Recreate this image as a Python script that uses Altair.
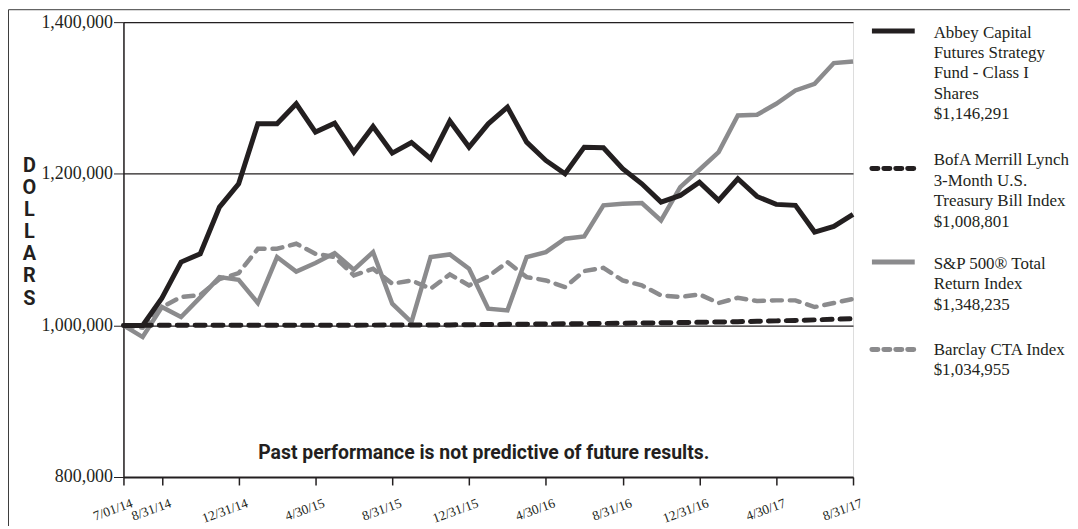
import json
import altair as alt
import pandas as pd

# ---------------- data ----------------
dates = ["7/01/14", "7/31/14", "8/31/14", "9/30/14", "10/31/14", "11/30/14", "12/31/14",
         "1/31/15", "2/28/15", "3/31/15", "4/30/15", "5/31/15", "6/30/15", "7/31/15", "8/31/15",
         "9/30/15", "10/31/15", "11/30/15", "12/31/15",
         "1/31/16", "2/29/16", "3/31/16", "4/30/16", "5/31/16", "6/30/16", "7/31/16", "8/31/16",
         "9/30/16", "10/31/16", "11/30/16", "12/31/16",
         "1/31/17", "2/28/17", "3/31/17", "4/30/17", "5/31/17", "6/30/17", "7/31/17", "8/31/17"]

tick_labels = ["7/01/14", "8/31/14", "12/31/14", "4/30/15", "8/31/15", "12/31/15",
               "4/30/16", "8/31/16", "12/31/16", "4/30/17", "8/31/17"]

abbey = [1000000, 1000000, 1036000, 1083500, 1094500, 1156000, 1186800, 1266000, 1266000, 1292300,
         1255000, 1266800, 1228600, 1262400, 1227300, 1241300, 1219800, 1269500, 1235200, 1265900,
         1287900, 1241700, 1217600, 1200000, 1235100, 1234300, 1206600, 1186800, 1162700, 1171400,
         1189000, 1164900, 1193400, 1170100, 1159600, 1158300, 1123100, 1130600, 1146291]

bofa = [1000000, 1000030, 1000060, 1000090, 1000120, 1000150, 1000180, 1000210, 1000240, 1000260,
        1000290, 1000310, 1000330, 1000360, 1000390, 1000420, 1000500, 1000650, 1000900, 1001150,
        1001400, 1001650, 1001900, 1002150, 1002380, 1002600, 1002850, 1003100, 1003400, 1003700,
        1004050, 1004450, 1004900, 1005400, 1005950, 1006600, 1007300, 1008050, 1008801]

sp500 = [1000000, 984600, 1024200, 1011000, 1037000, 1063700, 1060200, 1029500, 1090100, 1071000,
         1082200, 1095400, 1073400, 1096700, 1028600, 1004400, 1090100, 1093600, 1074700, 1022000,
         1019800, 1090100, 1096700, 1114300, 1117400, 1158300, 1160500, 1161300, 1138500, 1182400,
         1205300, 1228600, 1276900, 1277800, 1292300, 1309900, 1318700, 1346000, 1348235]

barclay = [1000000, 997000, 1024000, 1037400, 1040000, 1061000, 1069000, 1101100, 1101100, 1107700,
           1094500, 1090100, 1065900, 1074700, 1055000, 1059300, 1048400, 1067300, 1052800, 1064600,
           1083500, 1063700, 1059300, 1050600, 1071700, 1076000, 1059300, 1052800, 1039600, 1037400,
           1040900, 1029500, 1036500, 1032100, 1033000, 1033000, 1024200, 1029500, 1034955]

series_names = ["Abbey Capital Futures Strategy Fund - Class I Shares",
                "BofA Merrill Lynch 3-Month U.S. Treasury Bill Index",
                "S&P 500® Total Return Index",
                "Barclay CTA Index"]

legend_texts = [
    ["Abbey Capital", "Futures Strategy", "Fund - Class I", "Shares", "$1,146,291"],
    ["BofA Merrill Lynch", "3-Month U.S.", "Treasury Bill Index", "$1,008,801"],
    ["S&P 500® Total", "Return Index", "$1,348,235"],
    ["Barclay CTA Index", "$1,034,955"],
]

y_ticks = [800000, 1000000, 1200000, 1400000]
note = "Past performance is not predictive of future results."

# ---------------- styling ----------------
INK = "#231f20"
GRAY = "#8b8b8d"
SERIF = "Liberation Serif"
NARROW = "Roboto, Liberation Sans, sans-serif"
W, H = 733, 457

rows = []
for name, vals in zip(series_names, [abbey, bofa, sp500, barclay]):
    for i, (d, v) in enumerate(zip(dates, vals)):
        rows.append({"series": name, "idx": i, "date": d, "value": v})
df = pd.DataFrame(rows)

tick_idx = [dates.index(t) for t in tick_labels]

x_enc = alt.X(
    "idx:Q",
    scale=alt.Scale(domain=[0, len(dates) - 1], nice=False, zero=False),
    axis=alt.Axis(
        values=tick_idx,
        labelExpr=json.dumps(dates) + "[datum.value]",
        title=None, grid=False,
        labelAngle=-20, labelAlign="right", labelBaseline="top",
        labelFont=SERIF, labelFontSize=13.5, labelColor=INK,
        labelPadding=11, labelOffset=6, labelOverlap=False, labelFlush=False,
        tickSize=8, tickWidth=1.5, tickColor=INK,
        domainColor=INK, domainWidth=2,
    ),
)

y_enc = alt.Y(
    "value:Q",
    scale=alt.Scale(domain=[800000, 1400000], nice=False, zero=False),
    axis=alt.Axis(
        values=y_ticks, format=",.0f",
        grid=True, gridColor=INK, gridWidth=1.2,
        tickSize=10, tickWidth=1, tickColor=INK,
        domainColor=INK, domainWidth=1.5,
        labelFont=SERIF, labelFontSize=18, labelColor=INK, labelPadding=1,
        title=list("DOLLARS"), titleAngle=0, titleFont=NARROW, titleFontWeight="bold",
        titleFontSize=20, titleColor=INK, titleLineHeight=22.2,
        titleX=-95, titleY=134, titleAlign="center", titleBaseline="top",
    ),
)

styles = {
    series_names[0]: dict(color=INK, strokeWidth=5),
    series_names[1]: dict(color=INK, strokeWidth=5, strokeDash=[10, 8], strokeCap="round"),
    series_names[2]: dict(color=GRAY, strokeWidth=4.5),
    series_names[3]: dict(color=GRAY, strokeWidth=4.5, strokeDash=[10, 8], strokeCap="round"),
}

base = alt.Chart(df)
draw_order = [series_names[3], series_names[2], series_names[1], series_names[0]]
line_layers = []
for name in draw_order:
    line_layers.append(
        base.transform_filter(alt.datum.series == name)
        .mark_line(strokeJoin="miter", **styles[name])
        .encode(x=x_enc, y=y_enc)
    )

dummy = pd.DataFrame({"k": [0]})

note_layer = alt.Chart(dummy).mark_text(
    text=note, font=NARROW, fontWeight="bold", fontSize=19.5, color=INK,
    align="center", baseline="alphabetic",
).encode(x=alt.value(362), y=alt.value(439))

# custom legend (symbol aligned with first text line)
legend_sym_y = [9, 147, 241, 329]
legend_txt_y = [15.5, 144, 248, 334]
legend_layers = []
leg_styles = [
    dict(color=INK, strokeWidth=5),
    dict(color=INK, strokeWidth=5, strokeDash=[6, 6], strokeCap="round"),
    dict(color=GRAY, strokeWidth=5),
    dict(color=GRAY, strokeWidth=5, strokeDash=[6, 6], strokeCap="round"),
]
for lines, sy, ty, st in zip(legend_texts, legend_sym_y, legend_txt_y, leg_styles):
    legend_layers.append(
        alt.Chart(dummy).mark_rule(**st).encode(
            x=alt.value(752), x2=alt.value(795), y=alt.value(sy))
    )
    legend_layers.append(
        alt.Chart(dummy).mark_text(
            text="\n".join(lines), lineBreak="\n", lineHeight=20.5,
            font=SERIF, fontSize=17, color=INK, align="left", baseline="alphabetic",
        ).encode(x=alt.value(814), y=alt.value(ty))
    )

frame_layers = [
    alt.Chart(dummy).mark_rule(color="#3a3a3a", strokeWidth=1).encode(
        x=alt.value(-115.5), y=alt.value(-12.5), y2=alt.value(H + 60)),
    alt.Chart(dummy).mark_rule(color="#3a3a3a", strokeWidth=1).encode(
        x=alt.value(-115.5), x2=alt.value(W + 230), y=alt.value(-12.5)),
]

chart = alt.layer(*frame_layers, *line_layers, note_layer, *legend_layers).properties(
    width=W, height=H,
    padding={"left": 116, "top": 13, "right": 218, "bottom": 48},
    autosize=alt.AutoSizeParams(type="none"),
).configure_view(stroke=INK, strokeWidth=1.5).configure(background="white")

chart.save("out.html", embed_options={"renderer": "svg", "actions": False})
